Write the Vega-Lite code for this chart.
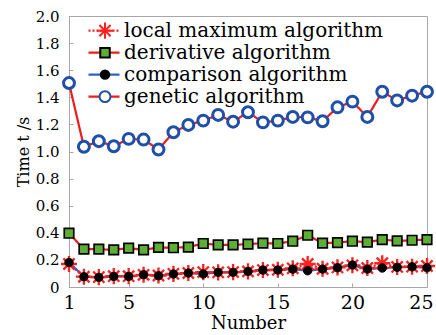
{
  "$schema": "https://vega.github.io/schema/vega-lite/v6.json",
  "width": 358,
  "height": 271,
  "autosize": {"type": "none"},
  "padding": {"left": 69, "top": 16, "right": 9, "bottom": 48},
  "background": "white",
  "config": {
    "font": "DejaVu Serif",
    "view": {"stroke": "#a8a8a8", "strokeWidth": 1},
    "axis": {"grid": false, "domain": false, "tickColor": "#a8a8a8", "tickSize": -4, "labelColor": "#000", "titleColor": "#000", "titleFontWeight": "normal", "labelFont": "DejaVu Serif", "titleFont": "DejaVu Serif"},
    "legend": {"labelFont": "DejaVu Serif", "labelColor": "#000", "labelLimit": 400}
  },
  "data": {"values": [
    {"n":1,"series":"local maximum algorithm","t":0.17},{"n":2,"series":"local maximum algorithm","t":0.076},{"n":3,"series":"local maximum algorithm","t":0.073},{"n":4,"series":"local maximum algorithm","t":0.08},{"n":5,"series":"local maximum algorithm","t":0.08},{"n":6,"series":"local maximum algorithm","t":0.09},{"n":7,"series":"local maximum algorithm","t":0.085},{"n":8,"series":"local maximum algorithm","t":0.097},{"n":9,"series":"local maximum algorithm","t":0.103},{"n":10,"series":"local maximum algorithm","t":0.11},{"n":11,"series":"local maximum algorithm","t":0.108},{"n":12,"series":"local maximum algorithm","t":0.11},{"n":13,"series":"local maximum algorithm","t":0.115},{"n":14,"series":"local maximum algorithm","t":0.125},{"n":15,"series":"local maximum algorithm","t":0.127},{"n":16,"series":"local maximum algorithm","t":0.138},{"n":17,"series":"local maximum algorithm","t":0.17},{"n":18,"series":"local maximum algorithm","t":0.135},{"n":19,"series":"local maximum algorithm","t":0.145},{"n":20,"series":"local maximum algorithm","t":0.16},{"n":21,"series":"local maximum algorithm","t":0.14},{"n":22,"series":"local maximum algorithm","t":0.175},{"n":23,"series":"local maximum algorithm","t":0.148},{"n":24,"series":"local maximum algorithm","t":0.15},{"n":25,"series":"local maximum algorithm","t":0.155},
    {"n":1,"series":"derivative algorithm","t":0.397},{"n":2,"series":"derivative algorithm","t":0.279},{"n":3,"series":"derivative algorithm","t":0.279},{"n":4,"series":"derivative algorithm","t":0.274},{"n":5,"series":"derivative algorithm","t":0.287},{"n":6,"series":"derivative algorithm","t":0.274},{"n":7,"series":"derivative algorithm","t":0.292},{"n":8,"series":"derivative algorithm","t":0.29},{"n":9,"series":"derivative algorithm","t":0.294},{"n":10,"series":"derivative algorithm","t":0.321},{"n":11,"series":"derivative algorithm","t":0.311},{"n":12,"series":"derivative algorithm","t":0.311},{"n":13,"series":"derivative algorithm","t":0.316},{"n":14,"series":"derivative algorithm","t":0.324},{"n":15,"series":"derivative algorithm","t":0.321},{"n":16,"series":"derivative algorithm","t":0.338},{"n":17,"series":"derivative algorithm","t":0.382},{"n":18,"series":"derivative algorithm","t":0.324},{"n":19,"series":"derivative algorithm","t":0.328},{"n":20,"series":"derivative algorithm","t":0.338},{"n":21,"series":"derivative algorithm","t":0.331},{"n":22,"series":"derivative algorithm","t":0.35},{"n":23,"series":"derivative algorithm","t":0.34},{"n":24,"series":"derivative algorithm","t":0.345},{"n":25,"series":"derivative algorithm","t":0.35},
    {"n":1,"series":"comparison algorithm","t":0.181},{"n":2,"series":"comparison algorithm","t":0.076},{"n":3,"series":"comparison algorithm","t":0.071},{"n":4,"series":"comparison algorithm","t":0.078},{"n":5,"series":"comparison algorithm","t":0.078},{"n":6,"series":"comparison algorithm","t":0.091},{"n":7,"series":"comparison algorithm","t":0.083},{"n":8,"series":"comparison algorithm","t":0.096},{"n":9,"series":"comparison algorithm","t":0.103},{"n":10,"series":"comparison algorithm","t":0.096},{"n":11,"series":"comparison algorithm","t":0.108},{"n":12,"series":"comparison algorithm","t":0.108},{"n":13,"series":"comparison algorithm","t":0.115},{"n":14,"series":"comparison algorithm","t":0.125},{"n":15,"series":"comparison algorithm","t":0.125},{"n":16,"series":"comparison algorithm","t":0.132},{"n":17,"series":"comparison algorithm","t":0.12},{"n":18,"series":"comparison algorithm","t":0.132},{"n":19,"series":"comparison algorithm","t":0.142},{"n":20,"series":"comparison algorithm","t":0.162},{"n":21,"series":"comparison algorithm","t":0.132},{"n":22,"series":"comparison algorithm","t":0.14},{"n":23,"series":"comparison algorithm","t":0.145},{"n":24,"series":"comparison algorithm","t":0.149},{"n":25,"series":"comparison algorithm","t":0.142},
    {"n":1,"series":"genetic algorithm","t":1.505},{"n":2,"series":"genetic algorithm","t":1.035},{"n":3,"series":"genetic algorithm","t":1.076},{"n":4,"series":"genetic algorithm","t":1.039},{"n":5,"series":"genetic algorithm","t":1.093},{"n":6,"series":"genetic algorithm","t":1.088},{"n":7,"series":"genetic algorithm","t":1.015},{"n":8,"series":"genetic algorithm","t":1.142},{"n":9,"series":"genetic algorithm","t":1.196},{"n":10,"series":"genetic algorithm","t":1.228},{"n":11,"series":"genetic algorithm","t":1.27},{"n":12,"series":"genetic algorithm","t":1.22},{"n":13,"series":"genetic algorithm","t":1.29},{"n":14,"series":"genetic algorithm","t":1.215},{"n":15,"series":"genetic algorithm","t":1.228},{"n":16,"series":"genetic algorithm","t":1.255},{"n":17,"series":"genetic algorithm","t":1.252},{"n":18,"series":"genetic algorithm","t":1.223},{"n":19,"series":"genetic algorithm","t":1.326},{"n":20,"series":"genetic algorithm","t":1.368},{"n":21,"series":"genetic algorithm","t":1.255},{"n":22,"series":"genetic algorithm","t":1.441},{"n":23,"series":"genetic algorithm","t":1.377},{"n":24,"series":"genetic algorithm","t":1.412},{"n":25,"series":"genetic algorithm","t":1.441}
  ]},
  "encoding": {
    "x": {"field": "n", "type": "quantitative", "scale": {"domain": [1, 25], "nice": false, "zero": false},
      "axis": {"values": [1, 5, 10, 15, 20, 25], "title": "Number", "labelFontSize": 19, "titleFontSize": 18, "labelPadding": 10, "titlePadding": 2, "labelFlush": false,
        "labelAlign": {"condition": {"test": "datum.value == 25", "value": "right"}, "value": "center"},
        "labelOffset": {"condition": {"test": "datum.value == 25", "value": 6}, "value": 0}}},
    "y": {"field": "t", "type": "quantitative", "scale": {"domain": [0, 2], "nice": false},
      "axis": {"values": [0, 0.2, 0.4, 0.6, 0.8, 1, 1.2, 1.4, 1.6, 1.8, 2], "title": "Time t /s", "labelExpr": "datum.value == 0 ? '0' : format(datum.value, '.1f')", "labelFontSize": 15, "titleFontSize": 16, "labelPadding": 14, "titlePadding": 4, "labelFlush": false}}
  },
  "layer": [
    {
      "mark": {"type": "line", "strokeWidth": 2.2},
      "encoding": {
        "color": {"field": "series", "type": "nominal", "sort": null,
          "scale": {"range": ["#ff2020", "#ee1c1c", "#3060c0", "#ee1c1c"]},
          "legend": {"title": null, "orient": "none", "legendX": 18, "legendY": 4, "symbolType": "stroke", "symbolSize": 961, "symbolStrokeWidth": 2.2, "labelFontSize": 20, "labelOffset": 3, "clipHeight": 21.3, "rowPadding": 0, "padding": 0}},
        "strokeDash": {"field": "series", "type": "nominal", "sort": null,
          "scale": {"range": [[2, 2], [1, 0], [1, 0], [1, 0]]},
          "legend": {"title": null, "orient": "none", "legendX": 18, "legendY": 4, "symbolType": "stroke", "symbolSize": 961, "symbolStrokeWidth": 2.2, "labelFontSize": 20, "labelOffset": 3, "clipHeight": 21.3, "rowPadding": 0, "padding": 0}}
      }
    },
    {
      "mark": {"type": "point", "opacity": 1, "size": 196},
      "encoding": {
        "shape": {"field": "series", "type": "nominal",
          "scale": {"domain": ["local maximum algorithm", "derivative algorithm", "comparison algorithm", "genetic algorithm"], "range": ["M-1.15,0L1.15,0M0,-1.15L0,1.15M-0.8,-0.8L0.8,0.8M-0.8,0.8L0.8,-0.8", "M-0.68,-0.68L0.68,-0.68L0.68,0.68L-0.68,0.68Z", "M-0.6,0A0.6,0.6 0 1,0 0.6,0A0.6,0.6 0 1,0 -0.6,0Z", "M-0.78,0A0.78,0.78 0 1,0 0.78,0A0.78,0.78 0 1,0 -0.78,0Z"]},
          "legend": {"title": null, "orient": "none", "legendX": 26, "legendY": 4, "symbolSize": 196, "symbolStrokeWidth": 2, "labelFontSize": 20, "labelExpr": "''", "clipHeight": 21.3, "rowPadding": 0, "padding": 0}},
        "fill": {"field": "series", "type": "nominal",
          "scale": {"domain": ["local maximum algorithm", "derivative algorithm", "comparison algorithm", "genetic algorithm"], "range": ["transparent", "#5cae34", "#000000", "#ffffff"]},
          "legend": {"title": null, "orient": "none", "legendX": 26, "legendY": 4, "symbolSize": 196, "symbolStrokeWidth": 2, "labelFontSize": 20, "labelExpr": "''", "clipHeight": 21.3, "rowPadding": 0, "padding": 0}},
        "stroke": {"field": "series", "type": "nominal",
          "scale": {"domain": ["local maximum algorithm", "derivative algorithm", "comparison algorithm", "genetic algorithm"], "range": ["#ff2020", "#000000", "#000000", "#1f4fa8"]},
          "legend": {"title": null, "orient": "none", "legendX": 26, "legendY": 4, "symbolSize": 196, "symbolStrokeWidth": 2, "labelFontSize": 20, "labelExpr": "''", "clipHeight": 21.3, "rowPadding": 0, "padding": 0}},
        "strokeWidth": {"field": "series", "type": "nominal", "sort": ["comparison algorithm", "derivative algorithm", "local maximum algorithm", "genetic algorithm"],
          "scale": {"type": "point", "range": [1, 3], "padding": 0}, "legend": null}
      }
    }
  ]
}
